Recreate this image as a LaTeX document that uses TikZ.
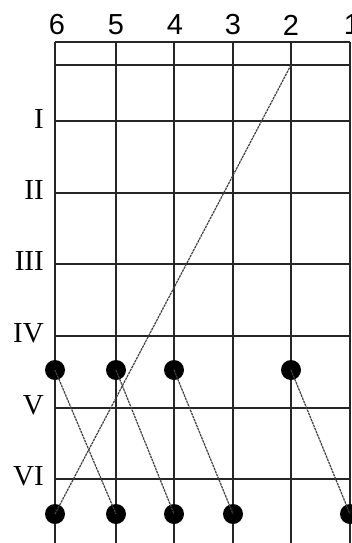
\documentclass[tikz,border=0pt]{standalone}
\usepackage{fontspec}
\setmainfont{Liberation Serif}
\newfontfamily\digitfont{Liberation Sans}
\begin{document}
\begin{tikzpicture}[x=1pt,y=-1pt,
  gridline/.style={line width=1.4pt,black!85},
  dot/.style={circle,fill=black,inner sep=0pt,minimum size=20pt},
  link/.style={line width=1.2pt,black!75,dash pattern=on 2.5pt off 0.8pt},
  colnum/.style={font=\digitfont\fontsize{29}{29}\selectfont,inner sep=0pt},
  rownum/.style={font=\fontsize{29}{29}\selectfont,inner sep=0pt,anchor=east}]
\useasboundingbox (0,0) rectangle (352,543);
\fill[white] (0,0) rectangle (352,543);
% grid
\foreach \y in {42,65,121,193,264,336,408,479}
  \draw[gridline] (55,\y) -- (350,\y);
\foreach \x in {55,116,174,233,291,350}
  \draw[gridline] (\x,42) -- (\x,543);
% column numbers
\node[colnum] (c6) at (57,25) {6};
\node[colnum] (c5) at (116,25) {5};
\node[colnum] (c4) at (175,25) {4};
\node[colnum] (c3) at (233,25) {3};
\node[colnum] (c2) at (291,25) {2};
\node[colnum] (c1) at (352,25) {1};
% row numerals
\node[rownum] (r1) at (44,119) {I};
\node[rownum] (r2) at (44,190) {II};
\node[rownum] (r3) at (44,261) {III};
\node[rownum] (r4) at (44,333) {IV};
\node[rownum] (r5) at (44,405) {V};
\node[rownum] (r6) at (44,476) {VI};
% dots
\node[dot] (u6) at (55,370) {};
\node[dot] (u5) at (116,370) {};
\node[dot] (u4) at (174,370) {};
\node[dot] (u2) at (291,370) {};
\node[dot] (l6) at (55,514) {};
\node[dot] (l5) at (116,514) {};
\node[dot] (l4) at (174,514) {};
\node[dot] (l3) at (233,514) {};
\node[dot] (l1) at (350,514) {};
\coordinate (s2) at (291,65);
% connectors
\draw[link] (s2) -- (l6.center);
\draw[link] (u6.center) -- (l5.center);
\draw[link] (u5.center) -- (l4.center);
\draw[link] (u4.center) -- (l3.center);
\draw[link] (u2.center) -- (l1.center);
\end{tikzpicture}
\end{document}
